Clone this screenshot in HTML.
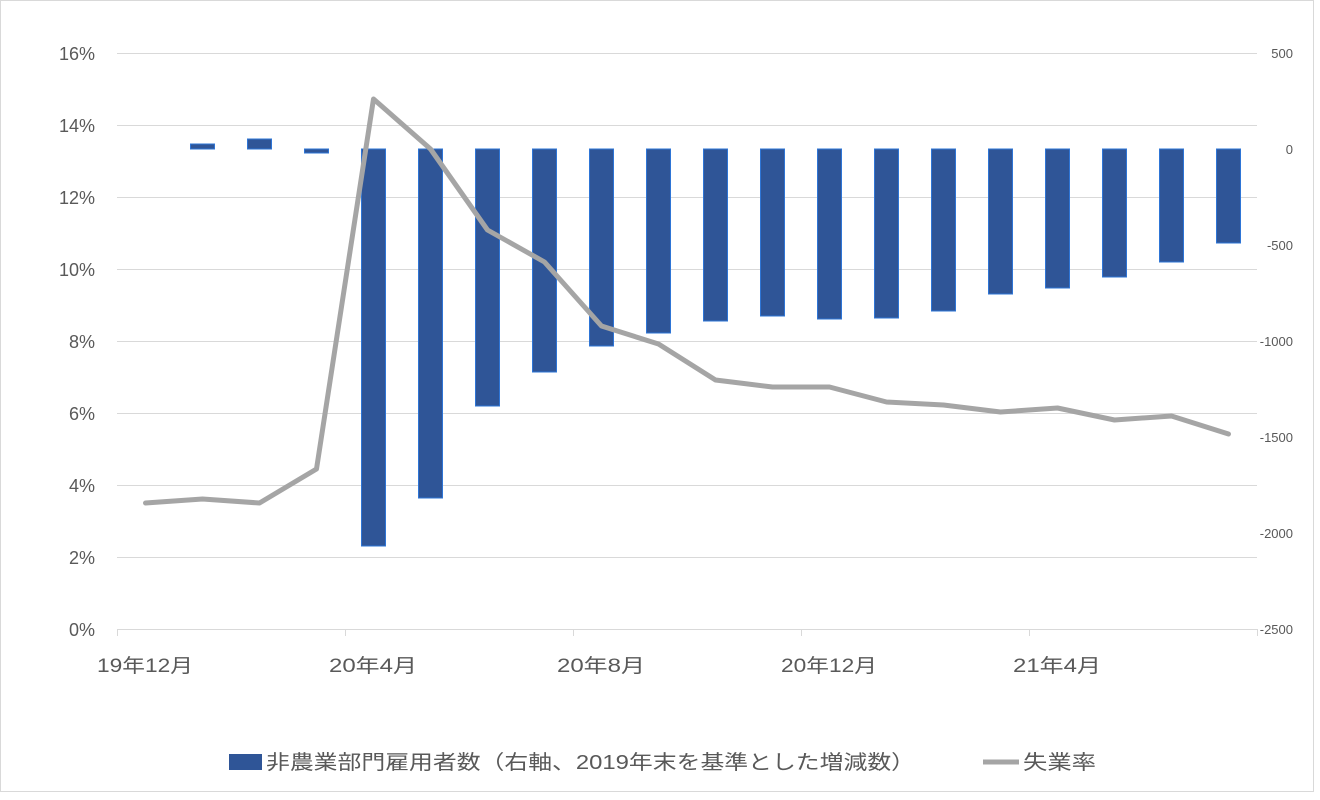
<!DOCTYPE html>
<html><head><meta charset="utf-8"><style>
body{margin:0;background:#fff}
svg text{font-family:"Liberation Sans","Noto Sans CJK JP",sans-serif;fill:#595959}
</style></head><body>
<svg width="1320" height="795" xmlns="http://www.w3.org/2000/svg">
<rect x="0.5" y="0.5" width="1313" height="791" fill="#fff" stroke="#d9d9d9"/>
<g stroke="#d9d9d9" stroke-width="1">
<line x1="117" y1="53.5" x2="1257" y2="53.5"/><line x1="117" y1="125.5" x2="1257" y2="125.5"/>
<line x1="117" y1="197.5" x2="1257" y2="197.5"/><line x1="117" y1="269.5" x2="1257" y2="269.5"/>
<line x1="117" y1="341.5" x2="1257" y2="341.5"/><line x1="117" y1="413.5" x2="1257" y2="413.5"/>
<line x1="117" y1="485.5" x2="1257" y2="485.5"/><line x1="117" y1="557.5" x2="1257" y2="557.5"/>
<line x1="117" y1="629.5" x2="1257" y2="629.5"/>
<line x1="117.5" y1="629" x2="117.5" y2="636"/><line x1="345.5" y1="629" x2="345.5" y2="636"/>
<line x1="573.5" y1="629" x2="573.5" y2="636"/><line x1="801.5" y1="629" x2="801.5" y2="636"/>
<line x1="1029.5" y1="629" x2="1029.5" y2="636"/><line x1="1257.5" y1="629" x2="1257.5" y2="636"/>
</g>
<g font-size="18" text-anchor="end">
<text x="95" y="60">16%</text><text x="95" y="132">14%</text><text x="95" y="204">12%</text>
<text x="95" y="276">10%</text><text x="95" y="348">8%</text><text x="95" y="420">6%</text>
<text x="95" y="492">4%</text><text x="95" y="564">2%</text><text x="95" y="636">0%</text>
</g>
<g font-size="13" text-anchor="end">
<text x="1293" y="58">500</text><text x="1293" y="154">0</text><text x="1293" y="250">-500</text>
<text x="1293" y="346">-1000</text><text x="1293" y="442">-1500</text><text x="1293" y="538">-2000</text>
<text x="1293" y="634">-2500</text>
</g>
<g font-size="19">
<text x="97" y="672" textLength="96" lengthAdjust="spacingAndGlyphs">19年12月</text>
<text x="329" y="672" textLength="88" lengthAdjust="spacingAndGlyphs">20年4月</text>
<text x="557" y="672" textLength="88" lengthAdjust="spacingAndGlyphs">20年8月</text>
<text x="781" y="672" textLength="96" lengthAdjust="spacingAndGlyphs">20年12月</text>
<text x="1013" y="672" textLength="88" lengthAdjust="spacingAndGlyphs">21年4月</text>
</g>
<g fill="#2f5597" stroke="#2e75d6" stroke-width="1">
<rect x="190.5" y="144" width="24" height="5"/><rect x="247.5" y="139" width="24" height="10"/>
<rect x="304.5" y="149" width="24" height="4"/><rect x="361.5" y="149" width="24" height="397"/>
<rect x="418.5" y="149" width="24" height="349"/><rect x="475.5" y="149" width="24" height="257"/>
<rect x="532.5" y="149" width="24" height="223"/><rect x="589.5" y="149" width="24" height="197"/>
<rect x="646.5" y="149" width="24" height="184"/><rect x="703.5" y="149" width="24" height="172"/>
<rect x="760.5" y="149" width="24" height="167"/><rect x="817.5" y="149" width="24" height="170"/>
<rect x="874.5" y="149" width="24" height="169"/><rect x="931.5" y="149" width="24" height="162"/>
<rect x="988.5" y="149" width="24" height="145"/><rect x="1045.5" y="149" width="24" height="139"/>
<rect x="1102.5" y="149" width="24" height="128"/><rect x="1159.5" y="149" width="24" height="113"/>
<rect x="1216.5" y="149" width="24" height="94"/>
</g>
<polyline fill="none" stroke="#a5a5a5" stroke-width="5" stroke-linejoin="round" stroke-linecap="round"
points="145.5,503 202.5,499 259.5,503 316.5,469 373.5,99 430.5,149 487.5,230 544.5,262 601.5,326 658.5,344 715.5,380 772.5,387 829.5,387 886.5,402 943.5,405 1000.5,412 1057.5,408 1114.5,420 1171.5,416 1228.5,434"/>
<rect x="229" y="754" width="33" height="16" fill="#2f5597"/>
<text x="266" y="769" font-size="20" textLength="649" lengthAdjust="spacingAndGlyphs">非農業部門雇用者数（右軸、2019年末を基準とした増減数）</text>
<line x1="983" y1="762" x2="1019" y2="762" stroke="#a5a5a5" stroke-width="5"/>
<text x="1023" y="769" font-size="20" textLength="73" lengthAdjust="spacingAndGlyphs">失業率</text>
</svg>
</body></html>
